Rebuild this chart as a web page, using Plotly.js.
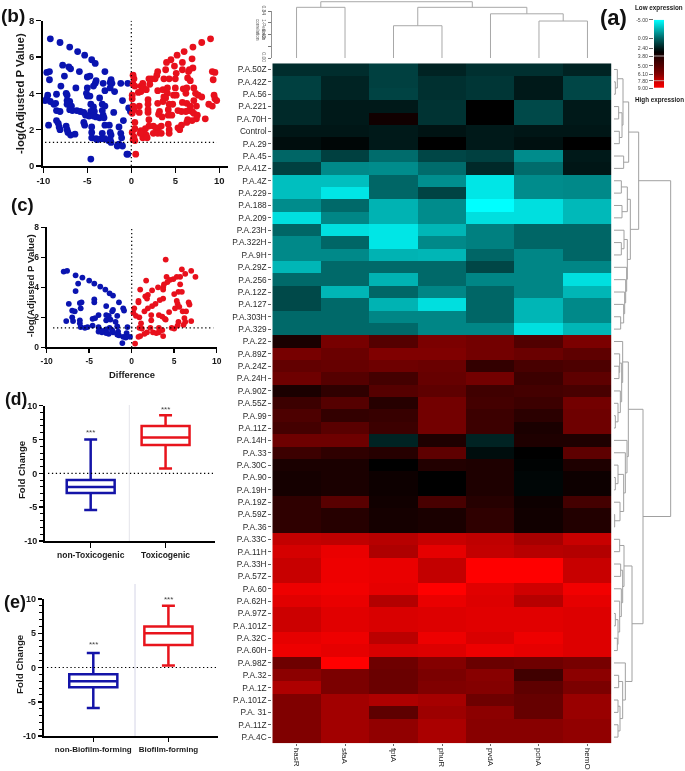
<!DOCTYPE html>
<html><head><meta charset="utf-8">
<script src="https://cdn.plot.ly/plotly-3.0.1.min.js"></script>
<style>html,body{margin:0;padding:0;background:#fff}#chart{filter:blur(0.35px)}</style></head><body>
<div id="chart" style="width:685px;height:771px"></div>
<script>
// ---------- data ----------
const geneLabels = ["hasR","sfaA","fptA","phuR","pvdA","pchA","hemO"];
const rowLabels = ["P.A.50Z","P.A.42Z","P.A.56","P.A.221","P.A.70H","Control","P.A.29","P.A.45","P.A.41Z","P.A.4Z","P.A.229","P.A.188","P.A.209","P.A.23H","P.A.322H","P.A.9H","P.A.29Z","P.A.256","P.A.12Z","P.A.127","P.A.303H","P.A.329","P.A.22","P.A.89Z","P.A.24Z","P.A.24H","P.A.90Z","P.A.55Z","P.A.99","P.A.11Z","P.A.14H","P.A.33","P.A.30C","P.A.90","P.A.19H","P.A.19Z","P.A.59Z","P.A.36","P.A.33C","P.A.11H","P.A.33H","P.A.57Z","P.A.60","P.A.62H","P.A.97Z","P.A.101Z","P.A.32C","P.A.60H","P.A.98Z","P.A.32","P.A.1Z","P.A.101Z","P.A. 31","P.A.11Z","P.A.4C"];
const heatValues = [
[1.6,1.6,1.0,1.9,1.5,1.5,1.9],[1.0,1.9,1.0,1.5,1.3,2.2,0.8],[1.0,1.9,0.9,1.5,1.3,2.2,0.8],
[1.7,2.2,2.2,1.4,3.0,0.7,2.2],[1.7,2.2,3.4,1.4,3.0,0.7,2.2],[2.3,2.3,2.2,2.4,2.2,2.3,2.3],
[2.6,2.8,2.2,3.0,2.2,2.5,3.0],[-0.2,1.0,-0.4,0.8,1.0,-1.4,2.2],[1.0,-1.3,-1.4,-0.4,1.7,-0.4,2.3],
[-3.0,-3.0,-0.2,-1.5,-4.2,-1.4,-1.3],[-3.0,-4.2,-0.2,0.9,-4.2,-1.4,-1.3],[-1.4,-0.3,-2.6,-1.4,-5,-4.0,-2.8],
[-4,-1.2,-2.6,-1.4,-4,-4,-2.8],[-0.2,-4,-4.2,-2.7,-1,-0.2,-0.2],[-1.3,-0.2,-4.2,-1.3,-1,-0.2,-0.2],
[-1.3,-1.3,-2.6,-2.7,-0.2,-1.2,-0.2],[-2.7,-0.3,-0.3,-0.3,0.8,-1.2,-1.2],[-0.3,-0.3,-2.6,-0.3,-1.2,-1.2,-4],
[0.7,-2.7,-0.2,-1.2,-0.2,-1.2,-2.7],[0.7,-0.3,-2.6,-4,-0.2,-2.7,-1.3],[-0.3,-0.3,-1.2,-1.2,-0.2,-2.7,-1.3],
[-0.3,-0.3,-0.3,-1.2,-1.2,-4,-2.7],[3.6,5.8,5,5.9,5.7,4.9,5.9],[5.8,5.5,6,6,5.7,5.5,5.2],
[5.3,5.4,5.6,5.5,4.2,4.7,4.8],[5.6,5,4.6,5.4,5.7,4.4,5.2],[3.6,4.1,5,5.2,4.5,4.6,4.7],
[4.4,5,3.9,5.7,4.6,4.4,5.7],[4.8,4.2,4.3,5.7,4.4,4.0,5.6],[4.6,5.1,4.4,5.7,4.4,3.6,5.6],
[5.6,5.6,1.9,3.7,1.9,3.7,3.7],[4.4,4.1,3.9,5.2,2.6,3.0,5.2],[3.6,3.6,3.0,3.8,3.7,2.9,3.7],
[3.5,3.6,3.3,3.0,3.7,2.8,3.3],[3.5,3.6,3.3,3.0,3.7,2.8,3.3],[4.1,5.1,3.4,4.7,3.9,3.3,4.6],
[4.1,3.9,3.5,3.6,4.1,3.4,3.8],[4.1,3.9,3.5,3.6,4.1,3.4,3.8],[7.6,7.5,7.3,7.7,7.5,6.9,7.7],
[8,8.5,7.1,8.4,7.6,7.3,7.2],[7.7,8.6,8.5,7.6,9,9,7.7],[7.7,8.6,8.5,7.6,9,9,7.7],
[8.6,8.7,8.4,9,8.3,7.9,8.7],[8.3,8.5,7.2,8.5,8.2,7.3,8.4],[7.8,8.3,8.1,8.2,8.3,8.3,8.2],
[7.8,8.3,8.1,8.2,8.3,8.3,8.2],[8.4,8.6,7.4,8.6,8.1,8.6,8.2],[8.6,8.4,8.1,8.2,8.6,8.4,8.2],
[5.6,9,5.6,6.1,5.5,5.6,5.8],[6.3,5.9,5.5,5.9,6.2,4.5,6.3],[7.1,5.9,5.5,6,6.1,5.2,5.9],
[6,6.8,7.1,6.9,5.6,5.4,6.6],[6,6.8,5.2,6.7,6.3,5.4,6.6],[6,6.8,6.4,7,6.2,6.2,6.4],[6,6.8,6.4,7,6.2,6.2,6.4]];

const legendValues = [-5,0.09,2.4,3.8,5,6.1,7.8,9];
const legendTicks = ["-5.00","0.09","2.40","3.80","5.00","6.10","7.80","9.00"];
const legendPos = [0,18.6,28.6,36.3,46,54.3,61,68.3];

// dendrograms: [childA, childB, height]; plain numbers are leaves
const columnTree = [[0,1,0.906],[[2,3,0.577],[4,[5,6,0.661],0.79],0.906],1.006];
const treeA = [[[0,[1,2,22],28],[[3,4,32],[5,6,34],42],45],[7,8,47],62];
const treeB = [[[9,10,40],[11,12,42],58],[[13,[14,15,40],48],[16,[17,[18,[19,[20,21,38],47],50],53],56],58],67];
const treeC = [[22,[[23,[24,25,33],35],[26,[27,[28,29,22],30],37],41],44],[30,[31,[[32,[33,34,22],30],[35,[36,37,20],36],47],52],57],61];
const treeD = [[[38,39,35],[[40,41,38],[42,[43,[[44,45,22],[46,47,28],30],35],40],44],48],[48,[[49,50,32],[[51,52,30],[53,54,30],36],44],52],72];
const rowTree = [[treeA,treeB,92],[treeC,treeD,105],188];

const bBlue = [[-9.2,7],[-8.1,6.8],[-7,6.55],[-6.1,6.3],[-5.3,6.1],[-4.5,5.85],[-4.1,5.65],[-7.8,5.55],[-7.1,5.45],[-6.9,5.35],[-5.9,5.2],[-3,5.2],[-9.6,5.15],[-9.3,5.2],[-7.6,4.95],[-5,4.9],[-4.7,4.95],[-9.3,4.75],[-4,4.7],[-4.1,4.55],[-2.3,4.75],[-2.4,4.6],[-3.2,4.55],[-2.2,4.55],[-1.2,4.55],[-0.4,4.55],[-8,4.4],[-6.3,4.3],[-4.3,4.4],[-5,4.3],[-3,4.15],[-2.4,4.3],[-1.9,4.1],[-7.4,4.0],[-7.3,3.9],[-5.1,4.0],[-9.5,3.9],[-9.6,3.7],[-8.5,3.95],[-5,3.85],[-4.7,3.85],[-3.6,3.75],[-9.8,3.6],[-9.2,3.55],[-8.8,3.4],[-8.6,3.45],[-7.3,3.6],[-7,3.55],[-7.3,3.4],[-6.8,3.3],[-1,3.6],[-3.3,3.4],[-3,3.3],[-4.6,3.4],[-4.3,3.25],[-8.5,3.05],[-8.1,3.0],[-7,3.1],[-6.7,3.05],[-6.2,3.05],[-5.8,3.0],[-5.4,2.95],[-4.6,3.0],[-4.2,3],[-3.3,3.05],[-3.2,2.8],[-2,2.95],[-0.3,3.2],[-0.1,3],[-5.2,2.8],[-4.8,2.75],[-4.3,2.75],[-4,2.7],[-3.6,2.65],[-3.1,2.65],[-8.5,2.5],[-8.3,2.35],[-0.9,2.5],[-9.4,2.25],[-8.2,2.15],[-8.1,2.0],[-7.4,2.2],[-7.3,2],[-7.2,1.85],[-5.4,2.4],[-5.3,2.25],[-3,2.25],[-2.5,2.25],[-1.4,2.15],[-4.5,2.15],[-6.4,1.75],[-6.9,1.7],[-4.5,1.85],[-3.3,1.8],[-1.2,1.8],[-2.4,1.85],[-2.3,1.7],[-4.5,1.55],[-4,1.5],[-3.4,1.5],[-3.9,1.45],[-3,1.5],[-1.1,1.55],[-2.6,1.4],[-2.3,1.3],[-2.4,1.45],[-1.4,1.2],[-1.6,1.1],[-1,1.1],[-0.5,0.65],[-0.4,0.65],[-4.6,0.38]];
const bRed = [[9,7],[8,6.8],[7,6.55],[6,6.3],[5.2,6.1],[4.5,5.85],[4,5.7],[6.9,5.9],[5.8,5.7],[3,5.2],[6.5,5.2],[7,5.4],[6.6,5.3],[4.9,5.5],[3.9,5.3],[5.8,5.3],[5.1,5.1],[9.2,5.2],[9.5,5.15],[2.9,5],[2.7,4.8],[2.3,4.8],[2,4.8],[0.2,5],[0.3,4.8],[1.3,4.55],[2.1,4.5],[3.7,4.8],[4.3,4.8],[5,4.8],[6.4,4.85],[6.7,4.7],[9.3,4.75],[0.2,4.5],[0.4,4.4],[1.1,4.4],[1.4,4.3],[0.8,4.05],[1.1,4.1],[1.7,4.2],[3,4.15],[3.6,4.2],[4.1,4.3],[5,4.3],[5.9,4.25],[6.3,4.3],[7.1,4.3],[7.3,4],[7.6,3.9],[6.2,4.0],[4.1,4],[3.7,3.8],[3.9,3.75],[4.8,3.9],[5.1,3.9],[9.4,3.9],[9.5,3.7],[8,3.8],[0.1,3.9],[0.1,3.7],[1.9,3.65],[1.9,3.4],[3.6,3.55],[3,3.45],[4.3,3.4],[4.7,3.4],[5.8,3.5],[6.3,3.45],[6.7,3.3],[7.1,3.6],[7.4,3.3],[8.8,3.4],[9.2,3.3],[9.7,3.6],[0.2,3.3],[0.3,3.1],[0.1,2.9],[0.9,3.3],[0.9,2.95],[1.9,3.1],[1.9,2.95],[3.2,3],[3.1,2.85],[3.5,2.7],[4.2,3.1],[4.2,2.8],[4.6,2.8],[5.3,3.05],[5.7,3],[6.2,3],[6.5,3.05],[6.9,3],[7.1,2.9],[7.5,2.8],[7.4,2.6],[8.4,2.6],[6.9,2.5],[6.4,2.55],[6.3,2.4],[5.7,2.25],[0.4,2.4],[2,2.55],[1.1,1.95],[0.4,2.05],[2,2.2],[2.5,2.2],[1.6,2.05],[1.4,1.9],[2.8,2.1],[3.1,2.1],[3.4,2.2],[4.2,2.3],[4.3,2],[4.3,1.8],[5.3,2.1],[5.5,2.0],[2.5,1.8],[3,1.8],[3.4,1.8],[1.7,1.7],[1.3,1.55],[1.8,1.55],[0.1,1.85],[0.3,1.6],[0.2,1.45],[0.4,1.4],[1,1.8],[0.5,0.65]];
const cBlue = [[-8,5.05],[-7.6,5.1],[-6.6,4.8],[-6.3,4.25],[-5.8,4.65],[-5,4.45],[-4.4,4.25],[-3.7,4.05],[-3.1,3.85],[-2.6,3.6],[-2.2,3.45],[-6.6,3.75],[-7.4,2.9],[-6.1,2.95],[-5.9,3],[-4.4,3.2],[-4.4,3],[-1.5,3],[-3,2.75],[-6,2.6],[-7,2.45],[-6.7,2.4],[-2.2,2.5],[-2.3,2.4],[-1,2.6],[-0.9,2.45],[-3,2.15],[-3.9,2.15],[-2.7,2.1],[-1.7,2.1],[-7,2],[-7.7,1.75],[-6.9,1.75],[-6.1,1.8],[-6.1,1.6],[-4.6,1.9],[-4.3,1.95],[-3,1.8],[-2.5,1.85],[-1.9,1.7],[-6,1.35],[-5.5,1.3],[-5.2,1.35],[-4.6,1.45],[-3.9,1.35],[-3.8,1.2],[-3.2,1.1],[-3.9,1.05],[-3.6,1.1],[-3,1.2],[-2.6,1.3],[-2.3,1.15],[-2.2,1],[-1.7,1.4],[-1.6,1.05],[-1.7,0.85],[-1.5,0.8],[-0.5,1.35],[-0.6,0.95],[-1,0.7],[-0.7,0.65],[-0.2,0.7],[-1.1,0.28],[-2.7,0.9],[-3,0.95],[-3.5,1]];
const cRed = [[4,5.85],[5.9,5.2],[7,5.1],[6.3,4.9],[7.5,4.7],[4.1,4.7],[5.7,4.7],[5.3,4.7],[4.9,4.55],[4.5,4.5],[4.2,4.35],[1.7,4.45],[3.8,4.2],[3.7,4],[3.1,4],[3.7,3.85],[2.4,3.8],[1,3.85],[5.7,4.2],[5.5,3.7],[5.9,3.7],[5,3.55],[1.9,3.5],[1.6,3.4],[1.8,3.25],[0.8,3.1],[0.8,3],[3.7,3.25],[3.3,3.15],[5.3,3.1],[5.4,2.9],[6.7,3],[6.8,2.85],[2.8,2.9],[2.4,2.75],[1.9,2.6],[1.5,2.4],[5.6,2.7],[6,2.4],[6.4,2.4],[5.1,2.6],[4.4,2.35],[0.3,2.6],[0.2,2.3],[0.5,2.1],[0.9,2],[2.3,2.15],[3.2,2.15],[3.6,2.05],[4,1.85],[2.3,1.8],[3.9,1.9],[5.5,1.7],[6.2,1.95],[6.3,1.7],[6.1,1.5],[7,1.75],[1.1,1.6],[5.4,1.45],[4.7,1.3],[5,1.25],[0.9,1.3],[1.2,1.25],[2.2,1.3],[3.2,1.3],[3.6,1.15],[1.5,0.9],[1.8,1],[2.5,1],[2.9,0.95],[3.2,1],[3.7,0.75],[1,0.75],[0.8,0.7],[0.4,0.25]];

const toxCats = ["non-Toxicogenic","Toxicogenic"];
const toxLower = [-5.4,0.7], toxQ1 = [-2.9,4.2], toxMedian = [-2,5.3], toxQ3 = [-1,7], toxUpper = [5,8.6];
const bioCats = ["non-Biofilm-forming","Biofilm-forming"];
const bioLower = [-5.9,0.3], bioQ1 = [-2.9,3.3], bioMedian = [-2,5], bioQ3 = [-1,6], bioUpper = [2.1,9];
const scaleTicks = [-10,-5,0,5,10];

// ---------- helpers ----------
const W = 685, H = 771;
const FONT = "Liberation Sans";
const BLUE = "#0a14b0", RED = "#e8101c", BOXBLUE = "#1414a8", BOXRED = "#e8141c";
const DOT = "1.3px,2.6px";
const dx = (a,b)=>[a/W,b/W];
const dy = (top,bot)=>[1-bot/H,1-top/H];
const px = a=>a/W, py = a=>1-a/H;
const hyphenTicks = {tickmode:"array",tickvals:scaleTicks,ticktext:scaleTicks.map(String)};

const heatScale = [[0,"#00ffff"],[8/14,"#000000"],[1,"#ff0000"]];

function treeLines(tree, base){
  const hs=[], ps=[];
  (function walk(n){
    if(typeof n==="number") return {p:n,h:base};
    const a=walk(n[0]), b=walk(n[1]), h=n[2];
    hs.push(a.h,h,h,b.h,null); ps.push(a.p,a.p,b.p,b.p,null);
    return {p:(a.p+b.p)/2,h:h};
  })(tree);
  return {hs,ps};
}
const topLines = treeLines(columnTree,0);
const rightLines = treeLines(rowTree,18);
const rowIdx = rowLabels.map((_,i)=>i);
const colIdx = geneLabels.map((_,i)=>i);

const scat=(pts,color,size,xa,ya)=>({type:"scatter",mode:"markers",x:pts.map(p=>p[0]),y:pts.map(p=>p[1]),xaxis:xa,yaxis:ya,
  marker:{color:color,size:size,line:{width:0}},cliponaxis:false,showlegend:false,hoverinfo:"skip"});
const box=(name,l,q1,m,q3,u,color,xa,ya)=>({type:"box",x:[name],lowerfence:[l],q1:[q1],median:[m],q3:[q3],upperfence:[u],
  xaxis:xa,yaxis:ya,width:0.64,whiskerwidth:0.27,boxpoints:false,fillcolor:"rgba(255,255,255,0)",line:{color:color,width:2.5},showlegend:false,hoverinfo:"skip"});

const data = [
  scat(bBlue,BLUE,6.8,"x","y"),scat(bRed,RED,6.8,"x","y"),
  scat(cBlue,BLUE,5.8,"x2","y2"),scat(cRed,RED,5.8,"x2","y2"),
  box(toxCats[0],toxLower[0],toxQ1[0],toxMedian[0],toxQ3[0],toxUpper[0],BOXBLUE,"x3","y3"),
  box(toxCats[1],toxLower[1],toxQ1[1],toxMedian[1],toxQ3[1],toxUpper[1],BOXRED,"x3","y3"),
  box(bioCats[0],bioLower[0],bioQ1[0],bioMedian[0],bioQ3[0],bioUpper[0],BOXBLUE,"x4","y4"),
  box(bioCats[1],bioLower[1],bioQ1[1],bioMedian[1],bioQ3[1],bioUpper[1],BOXRED,"x4","y4"),
  {type:"heatmap",z:heatValues,x:colIdx,y:rowIdx,xaxis:"x5",yaxis:"y5",zmin:-5,zmax:9,colorscale:heatScale,showscale:false,hoverinfo:"skip"},
  {type:"scatter",mode:"lines",x:topLines.ps,y:topLines.hs,xaxis:"x6",yaxis:"y6",line:{color:"#a8a8a8",width:1},showlegend:false,hoverinfo:"skip",connectgaps:false},
  {type:"scatter",mode:"lines",x:rightLines.hs,y:rightLines.ps,xaxis:"x7",yaxis:"y7",line:{color:"#a0a0a0",width:1},showlegend:false,hoverinfo:"skip",connectgaps:false},
  {type:"heatmap",z:legendValues.map(v=>[v,v]),x:[0,1],y:legendPos,xaxis:"x8",yaxis:"y8",zmin:-5,zmax:9,zsmooth:"best",colorscale:heatScale,showscale:false,hoverinfo:"skip"}
];

const tickF = s=>({family:FONT,size:s,color:"#1a1a1a",weight:700});
const blackAxis = (o)=>Object.assign({showgrid:false,zeroline:false,showline:true,linecolor:"#000",linewidth:2,ticks:"outside",ticklen:5,tickwidth:1.5,tickcolor:"#000"},o);
const note=(text,x,y,size,extra)=>Object.assign({text:text,xref:"paper",yref:"paper",x:px(x),y:py(y),showarrow:false,xanchor:"center",yanchor:"middle",
  font:{family:FONT,size:size,color:"#1a1a1a",weight:700}},extra||{});

const layout = {
  width:W,height:H,margin:{l:0,r:0,t:0,b:0},paper_bgcolor:"#fff",plot_bgcolor:"rgba(0,0,0,0)",showlegend:false,font:{family:FONT},
  // (b)
  xaxis:blackAxis(Object.assign({domain:dx(43.3,227.7),range:[-10,10.95],tickfont:tickF(9.5),anchor:"y"},hyphenTicks)),
  yaxis:blackAxis({domain:dy(20.7,166),range:[0,8],dtick:2,tickfont:tickF(9.5),anchor:"x"}),
  // (c)
  xaxis2:blackAxis(Object.assign({domain:dx(46.7,216.7),range:[-10,10],ticklen:4,tickfont:tickF(8.5),anchor:"y2"},hyphenTicks)),
  yaxis2:blackAxis({domain:dy(227.3,347.3),range:[0,8],dtick:2,ticklen:4,tickfont:tickF(8.5),anchor:"x2"}),
  // (d)
  xaxis3:blackAxis({domain:dx(45,215),type:"category",categoryorder:"array",categoryarray:toxCats,range:[-0.61,1.66],tickfont:tickF(8.5),anchor:"y3"}),
  yaxis3:blackAxis(Object.assign({domain:dy(405.7,541),range:[-10,10],ticklen:4,tickfont:tickF(9),anchor:"x3",minor:{dtick:1,ticks:"outside",ticklen:3,tickcolor:"#000",tickwidth:1}},hyphenTicks)),
  // (e)
  xaxis4:blackAxis({domain:dx(43.7,218),type:"category",categoryorder:"array",categoryarray:bioCats,range:[-0.66,1.66],ticklen:4,tickfont:tickF(8),anchor:"y4"}),
  yaxis4:blackAxis(Object.assign({domain:dy(599,736),range:[-10,10],ticklen:4,tickfont:tickF(9),anchor:"x4",minor:{dtick:1,ticks:"outside",ticklen:3,tickcolor:"#000",tickwidth:1}},hyphenTicks)),
  // heatmap
  xaxis5:{domain:dx(272.3,611.7),range:[-0.5,6.5],tickmode:"array",tickvals:colIdx,ticktext:geneLabels,tickangle:90,ticks:"outside",ticklen:2,tickcolor:"#666",tickwidth:1,
    tickfont:{family:FONT,size:8,color:"#222"},showgrid:false,zeroline:false,anchor:"y5"},
  yaxis5:{domain:dy(63.3,743.3),range:[54.5,-0.5],tickmode:"array",tickvals:rowIdx,ticktext:rowLabels,ticks:"outside",ticklen:3,tickcolor:"#666",tickwidth:1,
    tickfont:{family:FONT,size:8.3,color:"#2a2a2a"},showgrid:false,zeroline:false,anchor:"x5"},
  // top dendrogram
  xaxis6:{domain:dx(272.3,611.7),range:[-0.5,6.5],visible:false,anchor:"y6"},
  yaxis6:{domain:dy(1,58),range:[0,1.019],tickmode:"array",tickvals:[0,0.21,0.42,0.63,0.84],ticktext:["0.00","","0.42","","0.84"],tickangle:90,
    ticks:"outside",ticklen:3,tickwidth:0.8,tickcolor:"#555",tickfont:{family:FONT,size:5,color:"#555"},showgrid:false,zeroline:false,showline:false,anchor:"x6"},
  // right dendrogram
  xaxis7:{domain:dx(612,672),range:[12,192],visible:false,anchor:"y7"},
  yaxis7:{domain:dy(63.3,743.3),range:[54.5,-0.5],visible:false,anchor:"x7"},
  // colour legend
  xaxis8:{domain:dx(654,664),range:[0,1],visible:false,anchor:"y8"},
  yaxis8:{domain:dy(19.7,88),range:[68.3,0],tickmode:"array",tickvals:legendPos,ticktext:legendTicks,ticks:"outside",ticklen:4,tickwidth:0.8,tickcolor:"#444",
    tickfont:{family:FONT,size:5.2,color:"#444"},showgrid:false,zeroline:false,showline:false,anchor:"x8"},
  shapes:[
    {type:"line",xref:"x",yref:"y",x0:-9.8,x1:9.7,y0:1.3,y1:1.3,line:{color:"#000",width:1.2,dash:DOT}},
    {type:"line",xref:"x",yref:"y",x0:0,x1:0,y0:0,y1:8,line:{color:"#000",width:1.2,dash:DOT}},
    {type:"line",xref:"x2",yref:"y2",x0:-9.25,x1:9.6,y0:1.3,y1:1.3,line:{color:"#000",width:1.2,dash:DOT}},
    {type:"line",xref:"x2",yref:"y2",x0:0,x1:0,y0:0,y1:8,line:{color:"#000",width:1.2,dash:DOT}},
    {type:"line",xref:"paper",yref:"paper",x0:px(129.3),x1:px(129.3),y0:py(541),y1:py(405),line:{color:"#e4e4ea",width:1}},
    {type:"line",xref:"paper",yref:"paper",x0:px(135),x1:px(135),y0:py(736),y1:py(584),line:{color:"#d4d4e6",width:1}},
    {type:"line",xref:"paper",yref:"y3",x0:px(48),x1:px(213),y0:0,y1:0,line:{color:"#000",width:1.2,dash:DOT}},
    {type:"line",xref:"paper",yref:"y4",x0:px(47),x1:px(217),y0:0,y1:0,line:{color:"#000",width:1.2,dash:DOT}},
    {type:"line",xref:"paper",yref:"y6",x0:px(271.5),x1:px(271.5),y0:0,y1:0.84,line:{color:"#777",width:0.8}},
    {type:"line",xref:"x8",yref:"y8",x0:0,x1:1,y0:legendPos[3],y1:legendPos[3],line:{color:"#cccccc",width:0.8}},
    {type:"line",xref:"x8",yref:"y8",x0:0,x1:1,y0:legendPos[6],y1:legendPos[6],line:{color:"#cccccc",width:0.8}}
  ],
  annotations:[
    note("(a)",613,17,22,{font:{family:FONT,size:22,color:"#111",weight:700}}),
    note("(b)",13,15,19,{font:{family:FONT,size:19,color:"#111",weight:700}}),
    note("(c)",22,205,18.5,{font:{family:FONT,size:18.5,color:"#111",weight:700}}),
    note("(d)",16,399,17.5,{font:{family:FONT,size:17.5,color:"#111",weight:700}}),
    note("(e)",15,602,18,{font:{family:FONT,size:18,color:"#111",weight:700}}),
    note("-log(Adjusted P Value)",20,94,11.4,{textangle:-90}),
    note("-log(Adjusted P Value)",30,286,9.7,{textangle:-90}),
    note("Difference",132,374,9.4),
    note("Fold Change",21,470,9.6,{textangle:-90}),
    note("Fold Change",19,664,9.8,{textangle:-90}),
    note("Low expression",659,8,6.3),
    note("High expression",659,100,6.3),
    note("1-Pearson<br>correlation",260,30,4.6,{textangle:90,font:{family:FONT,size:4.6,color:"#555"}}),
    {text:"***",xref:"x3",yref:"y3",x:toxCats[0],y:6,showarrow:false,font:{family:FONT,size:8,color:"#444"}},
    {text:"***",xref:"x3",yref:"y3",x:toxCats[1],y:9.5,showarrow:false,font:{family:FONT,size:8,color:"#444"}},
    {text:"***",xref:"x4",yref:"y4",x:bioCats[0],y:3.4,showarrow:false,font:{family:FONT,size:8,color:"#444"}},
    {text:"***",xref:"x4",yref:"y4",x:bioCats[1],y:9.9,showarrow:false,font:{family:FONT,size:8,color:"#444"}}
  ]
};
Plotly.newPlot("chart",data,layout,{displayModeBar:false,staticPlot:true});
</script>
</body></html>
